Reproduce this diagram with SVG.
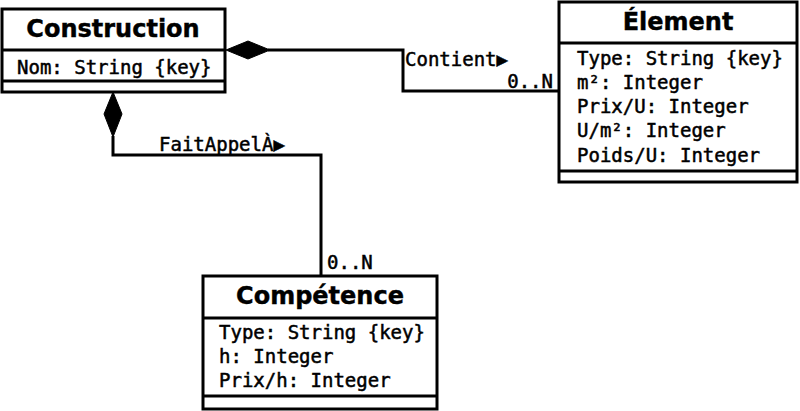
<svg xmlns="http://www.w3.org/2000/svg" width="800" height="411" viewBox="0 0 800 411">
<style>
.box{fill:#fff;stroke:#000;stroke-width:3}
.sep{stroke:#000;stroke-width:3}
.title{font-family:"DejaVu Sans",sans-serif;font-weight:bold;font-size:24px;text-anchor:middle;fill:#000;stroke:#000;stroke-width:0.4}
.attr{font-family:"DejaVu Sans Mono",monospace;font-size:19px;fill:#000;stroke:#000;stroke-width:0.5}
.conn{fill:none;stroke:#000;stroke-width:3}
.dia{fill:#000;stroke:#000;stroke-width:1}
</style>
<rect width="800" height="411" fill="#fff"/>
<g id="connectors">
<polyline class="conn" points="268,50 403,50 403,91 559,91"/>
<polygon class="dia" points="226,50 248,41 270,50 248,59"/>
<polyline class="conn" points="113,136 113,155 321,155 321,276"/>
<polygon class="dia" points="113,92 122,114 113,137 104,114"/>
<text class="attr" x="405" y="66">Contient▶</text>
<text class="attr" x="553" y="88" text-anchor="end">0..N</text>
<text class="attr" x="159" y="151">FaitAppelÀ▶</text>
<text class="attr" x="327" y="269">0..N</text>
</g>
<g id="construction">
<rect class="box" x="2" y="9" width="223" height="83"/>
<line class="sep" x1="2" y1="50" x2="225" y2="50"/>
<line class="sep" x1="2" y1="81" x2="225" y2="81"/>
<text class="title" x="113" y="37">Construction</text>
<text class="attr" x="17" y="74">Nom: String {key}</text>
</g>
<g id="element">
<rect class="box" x="559" y="2" width="238" height="180"/>
<line class="sep" x1="559" y1="43" x2="797" y2="43"/>
<line class="sep" x1="559" y1="171" x2="797" y2="171"/>
<text class="title" x="678" y="30">Élement</text>
<text class="attr" x="577" y="65">Type: String {key}</text>
<text class="attr" x="577" y="89">m²: Integer</text>
<text class="attr" x="577" y="113">Prix/U: Integer</text>
<text class="attr" x="577" y="137">U/m²: Integer</text>
<text class="attr" x="577" y="162">Poids/U: Integer</text>
</g>
<g id="competence">
<rect class="box" x="203" y="276" width="234" height="133"/>
<line class="sep" x1="203" y1="318" x2="437" y2="318"/>
<line class="sep" x1="203" y1="396" x2="437" y2="396"/>
<text class="title" x="320" y="304">Compétence</text>
<text class="attr" x="219" y="339">Type: String {key}</text>
<text class="attr" x="219" y="363">h: Integer</text>
<text class="attr" x="219" y="387">Prix/h: Integer</text>
</g>
</svg>
